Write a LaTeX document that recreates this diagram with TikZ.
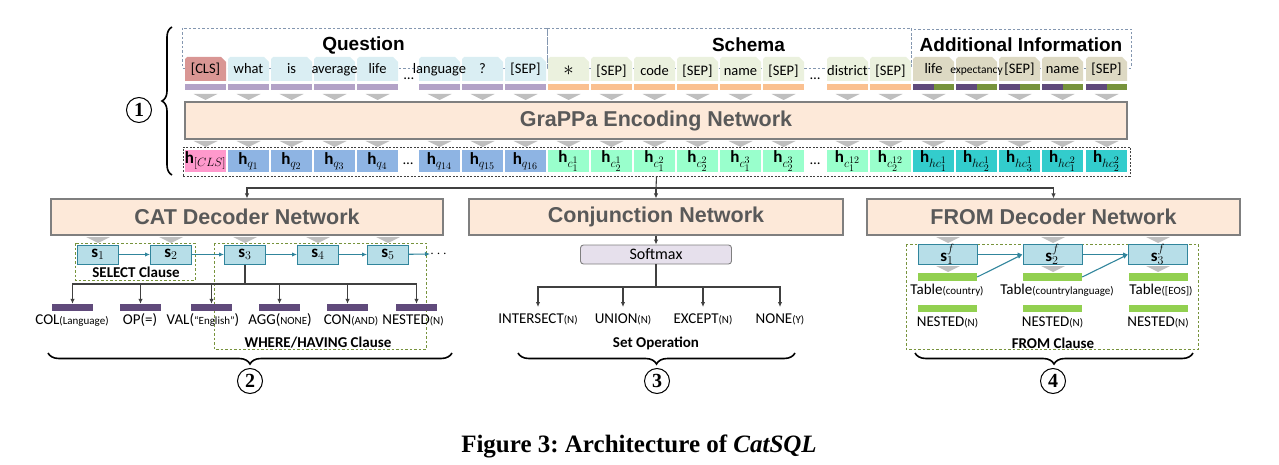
\documentclass[tikz,border=0pt]{standalone}
\usepackage{fontspec}
\setmainfont{Carlito}
\newfontfamily\hfont{Liberation Sans}
\newfontfamily\sfont{Liberation Serif}
\usetikzlibrary{arrows.meta,decorations.pathreplacing}
\DeclareMathSizes{17}{17}{13}{10}
\definecolor{clsred}{HTML}{D99694}
\definecolor{qtok}{HTML}{DAEEF3}
\definecolor{stok}{HTML}{EBF1DE}
\definecolor{atok}{HTML}{DDD9C3}
\definecolor{qbar}{HTML}{B3A2C7}
\definecolor{sbar}{HTML}{FAC090}
\definecolor{apurp}{HTML}{604A7B}
\definecolor{agreen}{HTML}{77933C}
\definecolor{trigray}{HTML}{BFBFBF}
\definecolor{peach}{HTML}{FDE9D9}
\definecolor{boxgray}{HTML}{7F7F7F}
\definecolor{hdrgray}{HTML}{595959}
\definecolor{hcls}{HTML}{FF99CC}
\definecolor{hq}{HTML}{8EB4E3}
\definecolor{hc}{HTML}{99FFCC}
\definecolor{hhc}{HTML}{33CCCC}
\definecolor{sfill}{HTML}{B7DEE8}
\definecolor{sedge}{HTML}{31859C}
\definecolor{lgreen}{HTML}{92D050}
\definecolor{smfill}{HTML}{E6E0EC}
\definecolor{olive}{HTML}{77933C}
\definecolor{bluegray}{HTML}{8497B0}
\definecolor{dgray}{HTML}{404040}
\newcommand\tokbg[2]{\fill[#2] (#1,81) -- (#1,59) -- (#1+2,57) -- (#1+36,57) -- (#1+41,62) -- (#1+41,81) -- cycle;}
\newcommand\tri[2]{\fill[trigray] (#1-12,#2) -- (#1+12,#2) -- (#1,#2+6) -- cycle;}
\newcommand\sm[1]{{\fontsize{11}{11}\selectfont #1}}
\frenchspacing
\tikzset{
  tokt/.style={font=\fontsize{14.5}{14.5}\selectfont, anchor=base, inner sep=0pt},
  hdr/.style={font=\hfont\bfseries\fontsize{19}{19}\selectfont},
  hdash/.style={draw=bluegray, dashed, line width=0.9pt, dash pattern=on 2.5pt off 2pt},
  netbox/.style={draw=boxgray, fill=peach, line width=1.1pt, inner sep=0pt, minimum height=36pt,
     font=\hfont\bfseries\fontsize{21.5}{21.5}\selectfont, text=hdrgray},
  hlab/.style={font=\fontsize{17}{17}\selectfont, inner sep=0pt},
  sbox/.style={draw=sedge, fill=sfill, line width=1pt, minimum width=41pt, minimum height=19pt, inner sep=0pt,
     font=\fontsize{17}{17}\selectfont},
  line/.style={draw=dgray, line width=1.1pt},
  conn/.style={draw=dgray, line width=1.1pt, -{Latex[length=5pt,width=4.5pt]}},
  tconn/.style={draw=sedge, line width=1.1pt, -{Latex[length=5pt,width=4.5pt]}},
  clause/.style={draw=olive, dashed, line width=0.9pt, dash pattern=on 2.5pt off 2pt},
  ctext/.style={font=\bfseries\fontsize{15}{15}\selectfont},
  lab/.style={font=\fontsize{15}{15}\selectfont, anchor=base, inner sep=0pt},
  pbar/.style={fill=apurp, minimum width=41pt, minimum height=7pt, inner sep=0pt},
  gbar/.style={fill=lgreen, minimum width=59pt, minimum height=7.5pt, inner sep=0pt},
  circ/.style={circle, draw=black, line width=1pt, minimum size=25pt, inner sep=0pt,
     font=\sfont\bfseries\fontsize{20}{20}\selectfont},
  brc/.style={decorate, decoration={brace, amplitude=11pt}, line width=1.6pt},
}
\begin{document}
\begin{tikzpicture}[x=1pt,y=-1pt]
\useasboundingbox (0,0) rectangle (1279,465);
% header dashed boxes
\draw[hdash] (182,28) rectangle (547,68);
\draw[hdash] (547,28) rectangle (911,68);
\draw[hdash] (911,29) rectangle (1131,68);
\node[hdr] (tq) at (363.5,45) {Question};
\node[hdr] (ts) at (748.5,45) {Schema};
\node[hdr] (ta) at (1021,45) {Additional Information};
% token backgrounds
\tokbg{185}{clsred}
\foreach \x in {228,271,314,357,419,462,505} {\tokbg{\x}{qtok}}
\foreach \x in {548,591,634,677,720,763,827,870} {\tokbg{\x}{stok}}
\foreach \x in {913,956,999,1042,1086} {\tokbg{\x}{atok}}
% token texts
\node[tokt] (q0) at (205.5,74) {[CLS]};
\foreach \x/\t [count=\i] in {228/what,271/is,314/average,357/life,419/language,462/?,505/{[SEP]}} {\node[tokt] (q\i) at (\x+20.5,74) {\t};}
\foreach \x/\t [count=\i] in {548/{\fontsize{20}{20}\selectfont$*$},591/{[SEP]},634/code,677/{[SEP]},720/name,763/{[SEP]},827/district,870/{[SEP]}} {\node[tokt] (sc\i) at (\x+20.5,76) {\t};}
\foreach \x/\t [count=\i] in {913/life,956/{\fontsize{11.5}{11.5}\selectfont expectancy},999/{[SEP]},1042/name,1086/{[SEP]}} {\node[tokt] (ad\i) at (\x+20.5,74) {\t};}
\node[tokt] (qdots) at (409,80) {\ldots};
\node[tokt] (sdots) at (815,80) {\ldots};
% bars and triangles
\foreach \x in {185,228,271,314,357,419,462,505} {\fill[qbar] (\x,84) rectangle (\x+41,90);}
\foreach \x in {548,591,634,677,720,763,827,870} {\fill[sbar] (\x,84) rectangle (\x+41,90);}
\foreach \x in {913,956,999,1042,1086} {\fill[apurp] (\x,84) rectangle (\x+20.5,90); \fill[agreen] (\x+20.5,84) rectangle (\x+41,90);}
\foreach \x in {185,228,271,314,357,419,462,505,548,591,634,677,720,763,827,870,913,956,999,1042,1086} {\tri{\x+20.5}{94} \tri{\x+20.5}{141}}
% encoder
\node[netbox, minimum width=942pt, minimum height=37pt] (grappa) at (656,120.5) {GraPPa Encoding Network};
% h row
\node[draw=dgray, dashed, line width=0.9pt, dash pattern=on 2pt off 1.5pt, minimum width=947pt, minimum height=29pt, inner sep=0pt] (hrow) at (656.5,161.5) {};
\fill[hcls] (185,150) rectangle (226,172);
\foreach \x in {228,271,314,357,419,462,505} {\fill[hq] (\x,150) rectangle (\x+41,172);}
\foreach \x in {548,591,634,677,720,763,827,870} {\fill[hc] (\x,150) rectangle (\x+41,172);}
\foreach \x in {913,956,999,1042,1086} {\fill[hhc] (\x,150) rectangle (\x+41,172);}
\node[hlab] (h0) at (205.5,161) {$\mathbf{h}_{[CLS]}$};
\foreach \x/\t [count=\i] in {228/1,271/2,314/3,357/4,419/{14},462/{15},505/{16}} {\node[hlab] (hq\i) at (\x+20.5,161) {$\mathbf{h}_{q_{\t}}$};}
\foreach \x/\t [count=\i] in {548/{c_1^1},591/{c_2^1},634/{c_1^2},677/{c_2^2},720/{c_1^3},763/{c_2^3},827/{c_1^{12}},870/{c_2^{12}}} {\node[hlab] (hc\i) at (\x+20.5,161) {$\mathbf{h}_{\t}$};}
\foreach \x/\t [count=\i] in {913/{hc_1^1},956/{hc_2^1},999/{hc_3^1},1042/{hc_1^2},1086/{hc_2^2}} {\node[hlab] (hh\i) at (\x+20.5,161) {$\mathbf{h}_{\t}$};}
\node[tokt] (hqd) at (408,165) {\ldots};
\node[tokt] (hcd) at (815,165) {\ldots};
% decoders
\node[netbox, minimum width=392pt] (cat) at (247,217) {CAT Decoder Network};
\node[netbox, minimum width=374pt] (conj) at (656,217) {Conjunction Network};
\node[netbox, minimum width=373pt] (from) at (1053.5,217) {FROM Decoder Network};
\coordinate (split) at (656,188);
\draw[line] (hrow.south) -- (split);
\draw[conn] (split) -- (conj.north);
\draw[conn] (split) -| (cat.north);
\draw[conn] (split) -| (from.north);
% CAT part
\foreach \x in {98,171,245,318,388} {\tri{\x}{237}}
\draw[clause] (75,243) rectangle (195,280);
\draw[clause] (214,243) rectangle (426,349);
\node[ctext] (selc) at (136,272) {SELECT Clause};
\node[ctext] (whc) at (318,343) {WHERE/HAVING Clause};
\node[sbox] (st1) at (98,254.5) {$\mathbf{s}_1$};
\node[sbox] (st2) at (171,254.5) {$\mathbf{s}_2$};
\node[sbox] (st3) at (245,254.5) {$\mathbf{s}_3$};
\node[sbox] (st4) at (318,254.5) {$\mathbf{s}_4$};
\node[sbox] (st5) at (388,254.5) {$\mathbf{s}_5$};
\node[inner sep=0pt, anchor=west, font=\fontsize{14}{14}\selectfont] (sdd) at (430,254) {$\cdots$};
\draw[tconn] (st1) -- (st2);
\draw[tconn] (st2) -- (st3);
\draw[tconn] (st3) -- (st4);
\draw[tconn] (st4) -- (st5);
\draw[tconn] (st5) -- (sdd.west);
\coordinate (j3) at (245,284);
\draw[line] (st3.south) -- (j3);
\foreach \x [count=\i] in {72.5,140.5,211.5,279.5,347.5,416.5} {\node[pbar] (pb\i) at (\x,307.5) {}; \draw[conn] (j3) -| (pb\i.north);}
\node[lab] (l1) at (72,324) {COL\sm{(Language)}};
\node[lab] (l2) at (140,324) {OP(=)};
\node[lab] (l3) at (203,324) {VAL(\sm{“English”})};
\node[lab] (l4) at (280,324) {AGG(\sm{NONE})};
\node[lab] (l5) at (351,324) {CON\sm{(AND)}};
\node[lab] (l6) at (413,324) {NESTED\sm{(N)}};
% Conjunction part
\node[draw=boxgray, fill=smfill, rounded corners=3pt, line width=0.9pt, minimum width=151pt, minimum height=19pt, inner sep=0pt, font=\fontsize{16}{16}\selectfont] (soft) at (656,254.5) {Softmax};
\draw[conn] (conj.south) -- (soft.north);
\coordinate (j4) at (656,287);
\draw[line] (soft.south) -- (j4);
\node[lab] (o1) at (538,323) {INTERSECT\sm{(N)}};
\node[lab] (o2) at (623,323) {UNION\sm{(N)}};
\node[lab] (o3) at (703,323) {EXCEPT\sm{(N)}};
\node[lab] (o4) at (780,323) {NONE\sm{(Y)}};
\foreach \i/\x in {1/538,2/623,3/703,4/780} {\coordinate (a\i) at (\x,307); \draw[conn] (j4) -| (a\i);}
\node[ctext] (setop) at (656,343) {Set Operation};
% FROM part
\draw[clause] (906,244) rectangle (1198,349);
\foreach \x in {948,1053,1158} {\tri{\x}{237}}
\node[sbox, minimum width=59pt] (f1) at (947.5,254.5) {$\mathbf{s}^{f}_1$};
\node[sbox, minimum width=59pt] (f2) at (1052.5,254.5) {$\mathbf{s}^{f}_2$};
\node[sbox, minimum width=59pt] (f3) at (1158,254.5) {$\mathbf{s}^{f}_3$};
\foreach \x in {948,1053,1158} {\tri{\x}{266}}
\foreach \x [count=\i] in {947.5,1052.5,1158} {\node[gbar] (ga\i) at (\x,277) {}; \node[gbar, minimum height=7pt] (gb\i) at (\x,308.5) {};}
\foreach \x [count=\i] in {947.5,1052.5,1158} {\node[lab] (nn\i) at (\x,326) {NESTED\sm{(N)}};}
\node[lab] (t1) at (947,294) {Table\sm{(country)}};
\node[lab] (t2) at (1057,294) {Table\sm{(countrylanguage)}};
\node[lab] (t3) at (1161,294) {Table\sm{([EOS])}};
\draw[tconn] (f1) -- (f2);
\draw[tconn] (f2) -- (f3);
\draw[tconn] (ga1.east) -- (f2.west);
\draw[tconn] (ga2.east) -- (f3.west);
\node[ctext] (fromc) at (1053,343) {FROM Clause};
% braces and circles
\draw[brc, decoration={amplitude=10pt}] (172,175) -- (172,27);
\node[circ] (c1) at (139,110) {1};
\draw[brc] (452,353) -- (48,353);
\node[circ] (c2) at (250,381) {2};
\draw[brc] (795,353) -- (518,353);
\node[circ] (c3) at (657,381) {3};
\draw[brc] (1193,353) -- (915,353);
\node[circ] (c4) at (1053,381) {4};
% caption
\node[font=\sfont\bfseries\fontsize{25}{25}\selectfont] (cap) at (639,446) {Figure 3: Architecture of \textit{CatSQL}};
\end{tikzpicture}
\end{document}
